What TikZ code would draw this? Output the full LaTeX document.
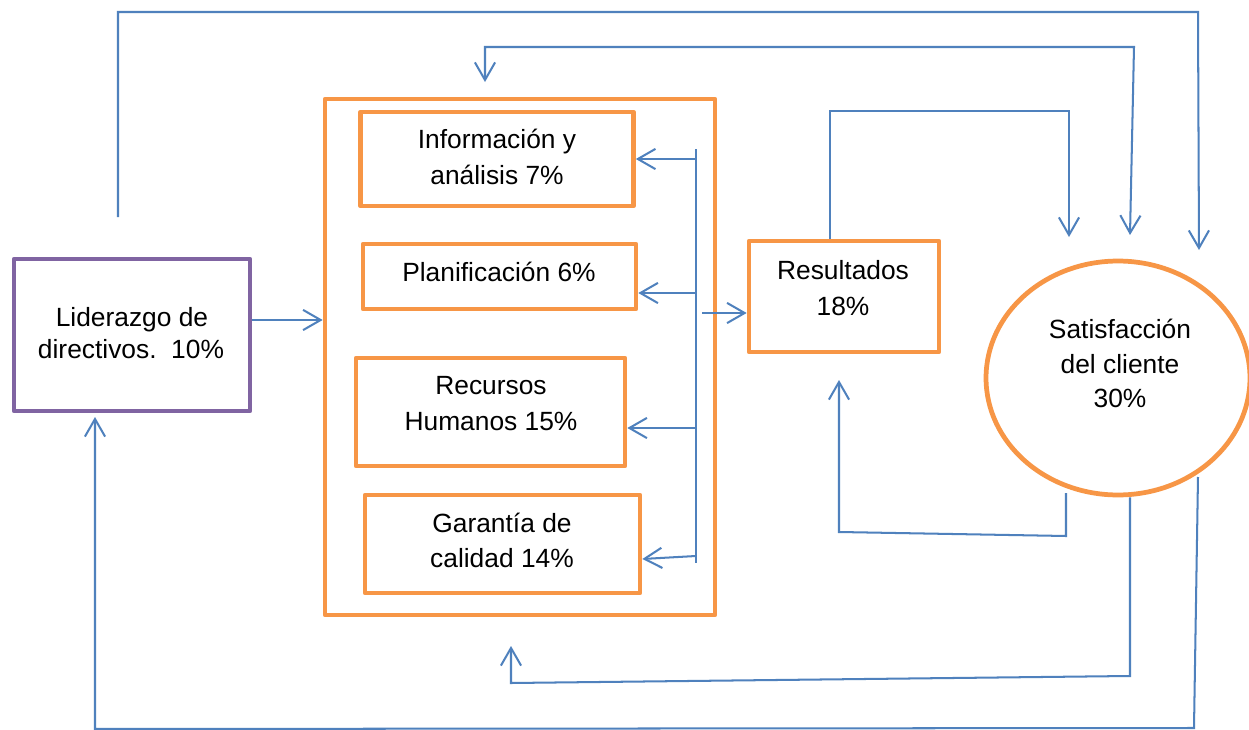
\documentclass[tikz,border=0pt]{standalone}
\usepackage{fontspec}
\setmainfont{Liberation Sans}
\usetikzlibrary{arrows.meta,shapes.geometric}
\definecolor{borange}{HTML}{F79646}
\definecolor{bpurple}{HTML}{8064A2}
\definecolor{bblue}{HTML}{4F81BD}
\begin{document}
\begin{tikzpicture}[x=0.02cm,y=-0.02cm,
  box/.style={draw=borange,line width=2.7pt,rectangle,inner sep=0pt,line join=round},
  lbl/.style={anchor=base,inner sep=0pt,font=\fontsize{15}{18}\selectfont},
  conn/.style={draw=bblue,line width=1.15pt},
  arr/.style={conn,-{Straight Barb[length=10pt,width=11.5pt]}},
  arrboth/.style={conn,{Straight Barb[length=10pt,width=11.5pt]}-{Straight Barb[length=10pt,width=11.5pt]}}
  ]
\useasboundingbox (0,0) rectangle (1249,730);
\fill[white] (0,0) rectangle (1249,730);

% boxes
\node[box,draw=bpurple,minimum width=4.72cm,minimum height=3.04cm] (lid) at (132,335) {};
\node[box,minimum width=7.8cm,minimum height=10.32cm] (big) at (520,357) {};
\node[box,minimum width=5.46cm,minimum height=1.88cm] (info) at (497,159) {};
\node[box,minimum width=5.46cm,minimum height=1.3cm] (plan) at (499.5,276.5) {};
\node[box,minimum width=5.38cm,minimum height=2.16cm] (rec) at (490.5,412) {};
\node[box,minimum width=5.5cm,minimum height=1.96cm] (gar) at (502.5,544) {};
\node[box,minimum width=3.8cm,minimum height=2.22cm] (res) at (844,296.5) {};
\node[box,ellipse,minimum width=5.28cm,minimum height=4.68cm] (sat) at (1118,378) {};

% labels
\node[lbl] (lidA) at (132,326) {Liderazgo de};
\node[lbl] (lidB) at (131,358) {directivos.\ \ 10\%};
\node[lbl] (infoA) at (497,148) {Información y};
\node[lbl] (infoB) at (497,184) {análisis 7\%};
\node[lbl] (planA) at (499,281) {Planificación 6\%};
\node[lbl] (recA) at (491,394) {Recursos};
\node[lbl] (recB) at (491,430) {Humanos 15\%};
\node[lbl] (garA) at (502,532) {Garantía de};
\node[lbl] (garB) at (502,567) {calidad 14\%};
\node[lbl] (resA) at (843,279) {Resultados};
\node[lbl] (resB) at (843,315) {18\%};
\node[lbl] (satA) at (1120,338) {Satisfacción};
\node[lbl] (satB) at (1120,373) {del cliente};
\node[lbl] (satC) at (1120,407) {30\%};

% coordinates
\coordinate (busT) at (696,149);
\coordinate (busB) at (696,563);
\coordinate (bo) at (702,313);
\coordinate (s1) at (1069,237);
\coordinate (s2) at (1130,235);
\coordinate (b2) at (485,82);
\coordinate (l0) at (118,217);
\coordinate (s3) at (1199,250);
\coordinate (b3) at (511,646);
\coordinate (l1) at (95,417);
\coordinate (r1) at (839,380);
\coordinate (o1) at (1198,477);
\coordinate (o2) at (1066,493);

% connectors
\draw[arr] (lid.east |- 0,320) -- (big.west |- 0,320);
\draw[conn] (busT) -- (busB);
\draw[arr] (busT |- 0,159) -- (info.east |- 0,159);
\draw[arr] (busT |- 0,293) -- (plan.east |- 0,293);
\draw[arr] (busT |- 0,428) -- (rec.east |- 0,428);
\draw[arr] (busT |- 0,556) -- (gar.east |- 0,559);
\draw[arr] (bo) -- (res.west |- bo);
\draw[arr] (830,0 |- res.north) -- (830,111) -- (1069,111) -- (s1);
\draw[arrboth] (b2) -- (485,47) -- (1134,47) -- (s2);
\draw[arr] (l0) -- (118,12) -- (1198,12) -- (s3);
\draw[arr] (1130,0 |- sat.south) -- (1130,676) -- (511,683) -- (b3);
\draw[arr] (o1) -- (1194,728) -- (95,729) -- (l1);
\draw[arr] (o2) -- (1066,536) -- (839,532) -- (r1);
\end{tikzpicture}
\end{document}
